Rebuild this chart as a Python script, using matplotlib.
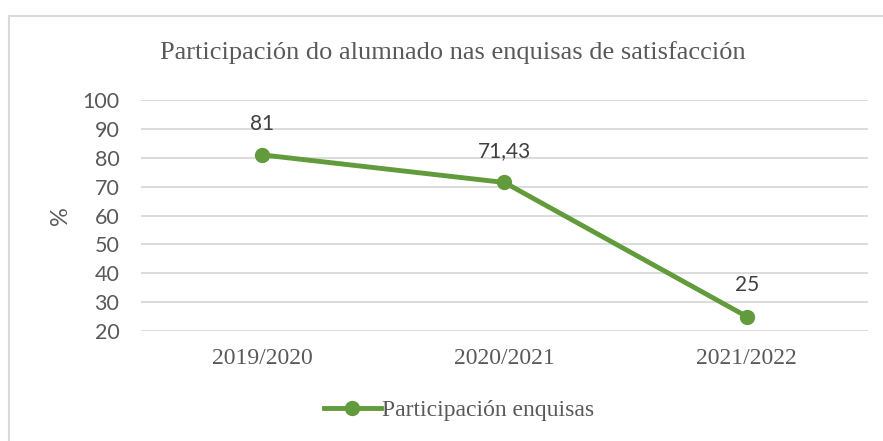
import matplotlib.pyplot as plt
from matplotlib.patches import Rectangle

# data
cursos = ['2019/2020', '2020/2021', '2021/2022']
participacion = [81, 71.43, 25]
etiquetas = ['81', '71,43', '25']

verde = '#629b3c'
gris_texto = '#595959'
serif = 'Liberation Serif'
sans = 'Lato'

fig = plt.figure(figsize=(8.83, 4.41), dpi=100)
ax = fig.add_axes([141/883, 110/441, 727/883, 231/441])

# border of chart area
fig.patches.append(Rectangle((8.5/883, -0.1), 1.0, (441 - 15.5)/441 + 0.1,
                             transform=fig.transFigure, fill=False,
                             edgecolor='#d9d9d9', linewidth=1.5))

x = range(len(cursos))
ax.plot(x, participacion, color=verde, linewidth=3.5, marker='o',
        markersize=10, label='Participación enquisas', zorder=3)

for xi, v, txt in zip(x, participacion, etiquetas):
    ax.annotate(txt, (xi, v), xytext=(0, 22.5), textcoords='offset points',
                ha='center', va='center', fontsize=15, family=sans,
                color='#404040')

ax.set_xlim(-0.5, 2.5)
ax.set_ylim(20, 100)
ax.set_yticks(range(20, 101, 10))
ax.set_xticks(list(x))
ax.set_xticklabels(cursos, family=serif, fontsize=17, color=gris_texto)
for lab in ax.get_yticklabels():
    lab.set_family(sans)
    lab.set_fontsize(15.5)
    lab.set_color(gris_texto)

ax.grid(axis='y', color='#d9d9d9', linewidth=1.3)
ax.set_axisbelow(True)
for sp in ax.spines.values():
    sp.set_visible(False)
ax.tick_params(length=0, pad=12, axis='x')
ax.tick_params(length=0, pad=15.5, axis='y')

ax.set_ylabel('%', family=sans, fontsize=17, color=gris_texto, labelpad=8)

fig.text(453/883, 1 - 53/441, 'Participación do alumnado nas enquisas de satisfacción',
         ha='center', va='center', family=serif, fontsize=19, color=gris_texto)

ax.legend(loc='center', bbox_to_anchor=(459/883, 1 - 410/441),
          bbox_transform=fig.transFigure, frameon=False,
          prop={'family': serif, 'size': 17}, handlelength=2.4,
          handletextpad=0.05, labelcolor=gris_texto)

fig.savefig('out.png', dpi=100)
